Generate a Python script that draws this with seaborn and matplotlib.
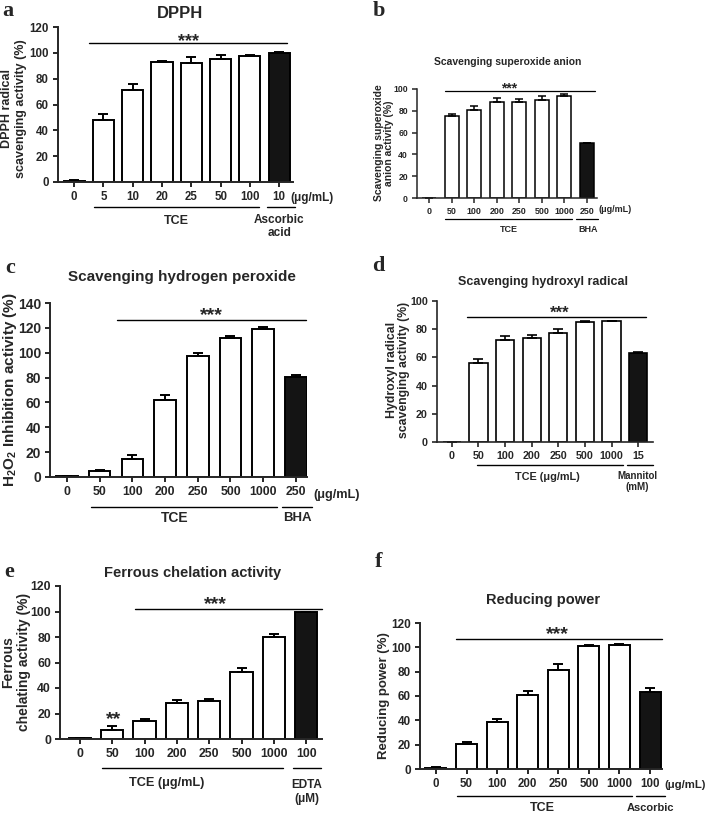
import matplotlib
matplotlib.use("Agg")
import matplotlib.pyplot as plt
import numpy as np
import pandas as pd
import seaborn as sns

# ---- data ----
a_labels = ["0", "5", "10", "20", "25", "50", "100", "10"]
a_means = [1, 48, 71, 93, 92.5, 95, 97.5, 99.5]
a_errs = [0.5, 4.3, 4.6, 0.5, 4.3, 3, 0.5, 1.2]

b_labels = ["0", "50", "100", "200", "250", "500", "1000", "250"]
b_means = [0, 74.8, 80.9, 87.7, 88.3, 89.5, 93.2, 50.5]
b_errs = [0, 2.1, 3.1, 4.3, 2.5, 3.7, 1.8, 0]

c_labels = ["0", "50", "100", "200", "250", "500", "1000", "250"]
c_means = [0.5, 4.6, 14.7, 61.7, 97.6, 111.8, 119, 80.4]
c_errs = [0.3, 1.3, 3.3, 4, 2.1, 1.9, 2, 1.9]

d_labels = ["0", "50", "100", "200", "250", "500", "1000", "15"]
d_means = [0, 56, 72, 73.9, 77, 85.2, 85.6, 62.8]
d_errs = [0, 2.6, 3.5, 2.3, 3.2, 0.4, 0.2, 1]

e_labels = ["0", "50", "100", "200", "250", "500", "1000", "100"]
e_means = [0.4, 7.3, 14.3, 28.1, 29.7, 52.3, 80.2, 99.5]
e_errs = [0, 2.6, 1.3, 2.4, 1.6, 3.2, 2.1, 0.3]

f_labels = ["0", "50", "100", "200", "250", "500", "1000", "100"]
f_means = [1, 20.4, 38.6, 60.9, 81, 101.4, 101.9, 63.1]
f_errs = [0.3, 1.4, 2.4, 3.3, 5.5, 0.8, 1.1, 3.3]

sns.set_style("ticks")
plt.rcParams['font.family'] = ['Liberation Sans', 'DejaVu Sans']
plt.rcParams['font.weight'] = 'bold'
plt.rcParams['mathtext.fontset'] = 'custom'
plt.rcParams['mathtext.rm'] = 'Liberation Sans:bold'
plt.rcParams['mathtext.bf'] = 'Liberation Sans:bold'

W, H = 709, 814
fig = plt.figure(figsize=(W / 100, H / 100), dpi=100)


def add_ax(l, t, r, b):
    return fig.add_axes([l / W, 1 - b / H, (r - l) / W, (b - t) / H])


def ftext(x, y, s, **kw):
    fig.text(x / W, 1 - y / H, s, **kw)


def bars(ax, labels, means, errs, width, ylim, ystep, xlim, fsx, fsy, lw=1.4):
    df = pd.DataFrame({"pos": list(range(len(labels))), "val": means})
    pal = ["white"] * (len(labels) - 1) + ["#141414"]
    sns.barplot(data=df, x="pos", y="val", hue="pos", palette=pal, legend=False,
                width=width, edgecolor="black", linewidth=lw, ax=ax)
    x = np.arange(len(labels))
    ax.errorbar(x, means, yerr=[np.zeros(len(errs)), errs], fmt="none",
                ecolor="black", elinewidth=lw, capsize=width * 5, capthick=lw, zorder=1)
    ax.set_xlim(*xlim)
    ax.set_ylim(*ylim)
    ax.set_yticks(np.arange(ylim[0], ylim[1] + 1, ystep))
    ax.set_xticks(x)
    ax.set_xticklabels(labels)
    ax.set_xlabel("")
    ax.set_ylabel("")
    sns.despine(ax=ax)
    for s in ["left", "bottom"]:
        ax.spines[s].set_linewidth(lw)
    ax.tick_params(width=lw, length=3.5, pad=3)
    ax.tick_params(axis="x", labelsize=fsx)
    ax.tick_params(axis="y", labelsize=fsy)
    for t in ax.get_xticklabels() + ax.get_yticklabels():
        t.set_fontweight("bold")


def group_line(ax, x0, x1, y, lw=1.0):
    ax.plot([x0, x1], [y, y], color="black", lw=lw, transform=ax.get_xaxis_transform(), clip_on=False)


def sig(ax, x0, x1, y, xs, ys, txt="***", fs=10, lw=1.0):
    ax.plot([x0, x1], [y, y], color="black", lw=lw, clip_on=False)
    ax.text(xs, ys, txt, ha="center", va="baseline", fontsize=fs, fontweight="bold")


def xt(ax, x, y, s, fs, **kw):
    ax.text(x, y, s, transform=ax.get_xaxis_transform(), fontsize=fs, fontweight="bold",
            ha=kw.pop("ha", "center"), va=kw.pop("va", "center"), **kw)


letter_kw = dict(family="Liberation Serif", fontweight="bold", fontsize=16, ha="center", va="center")
mu = "\u03bcg/mL"

# ---- a: DPPH ----
ax = add_ax(58, 27, 293, 182)
bars(ax, a_labels, a_means, a_errs, 0.72, (0, 120), 20, (-0.55, 7.47), 8.3, 8.3)
sig(ax, 0.51, 7.27, 108, 3.9, 105, fs=13)
group_line(ax, 0.68, 6.31, -0.161)
group_line(ax, 6.59, 7.54, -0.161)
xt(ax, 3.5, -0.252, "TCE", 9)
xt(ax, 7.0, -0.285, "Ascorbic\nacid", 8.5, linespacing=1.1)
xt(ax, 7.37, -0.103, "(" + mu + ")", 8.5, ha="left")
ftext(14, 109, "DPPH radical\nscavenging activity (%)", fontsize=9, fontweight="bold",
      rotation=90, ha="center", va="center", linespacing=1.15)
ftext(180, 13, "DPPH", fontsize=12, fontweight="bold", ha="center", va="center")
ftext(8, 11, "a", **letter_kw)

# ---- b: superoxide anion ----
ax = add_ax(417, 89, 597, 198)
bars(ax, b_labels, b_means, b_errs, 0.62, (0, 100), 20, (-0.53, 7.44), 6.4, 6.2, lw=1.1)
sig(ax, 0.71, 7.35, 98, 3.55, 97, fs=10, lw=0.9)
group_line(ax, 0.71, 6.34, -0.193, lw=0.9)
group_line(ax, 6.51, 7.49, -0.193, lw=0.9)
xt(ax, 3.54, -0.286, "TCE", 6.5)
xt(ax, 7.04, -0.286, "BHA", 6.5)
xt(ax, 7.5, -0.11, "(" + mu + ")", 6.5, ha="left")
ftext(384, 143, "Scavenging superoxide\nanion activity (%)", fontsize=7.5, fontweight="bold",
      rotation=90, ha="center", va="center", linespacing=1.1)
ftext(508, 62, "Scavenging superoxide anion", fontsize=7.5, fontweight="bold", ha="center", va="center")
ftext(379, 11, "b", **letter_kw)

# ---- c: hydrogen peroxide ----
ax = add_ax(50, 303, 307, 477)
bars(ax, c_labels, c_means, c_errs, 0.66, (0, 140), 20, (-0.52, 7.34), 8.8, 10)
sig(ax, 1.53, 7.31, 126, 4.43, 126.5, fs=14)
group_line(ax, 0.73, 6.42, -0.172)
group_line(ax, 6.57, 7.49, -0.172)
xt(ax, 3.3, -0.236, "TCE", 10)
xt(ax, 7.06, -0.236, "BHA", 9.5)
xt(ax, 7.52, -0.103, "(" + mu + ")", 9.2, ha="left")
ftext(10, 390, "H$_{2}$O$_{2}$ Inhibition activity (%)", fontsize=11, fontweight="bold",
      rotation=90, ha="center", va="center")
ftext(182, 277, "Scavenging hydrogen peroxide", fontsize=11, fontweight="bold", ha="center", va="center")
ftext(10, 268, "c", **letter_kw)

# ---- d: hydroxyl radical ----
ax = add_ax(437, 301, 653, 442)
bars(ax, d_labels, d_means, d_errs, 0.68, (0, 100), 20, (-0.56, 7.56), 7.7, 7.7, lw=1.2)
sig(ax, 0.56, 7.30, 88.5, 4.06, 88.3, fs=12)
group_line(ax, 0.94, 6.44, -0.163)
group_line(ax, 6.59, 7.56, -0.163)
xt(ax, 3.58, -0.248, "TCE (" + mu + ")", 7.8)
xt(ax, 6.96, -0.28, "Mannitol\n(mM)", 7, linespacing=1.15)
ftext(398, 370, "Hydroxyl radical\nscavenging activity (%)", fontsize=8.8, fontweight="bold",
      rotation=90, ha="center", va="center", linespacing=1.1)
ftext(543, 282, "Scavenging hydroxyl radical", fontsize=9, fontweight="bold", ha="center", va="center")
ftext(378, 266, "d", **letter_kw)

# ---- e: ferrous chelation ----
ax = add_ax(60, 586, 322, 739)
bars(ax, e_labels, e_means, e_errs, 0.69, (0, 120), 20, (-0.62, 7.49), 8.8, 8.8)
sig(ax, 1.70, 7.49, 102.3, 4.18, 102, fs=14)
ax.text(1.05, 11.5, "**", ha="center", va="baseline", fontsize=14, fontweight="bold")
group_line(ax, 0.68, 6.28, -0.19)
group_line(ax, 6.59, 7.46, -0.19)
xt(ax, 2.69, -0.288, "TCE (\u03bcg/mL)", 9.2)
xt(ax, 7.03, -0.345, "EDTA\n(\u03bcM)", 8.5, linespacing=1.25)
ftext(16, 662, "Ferrous\nchelating activity (%)", fontsize=10, fontweight="bold",
      rotation=90, ha="center", va="center", linespacing=1.15)
ftext(193, 573, "Ferrous chelation activity", fontsize=10.5, fontweight="bold", ha="center", va="center")
ftext(9, 572, "e", **letter_kw)

# ---- f: reducing power ----
ax = add_ax(420, 623, 662, 769)
bars(ax, f_labels, f_means, f_errs, 0.69, (0, 120), 20, (-0.52, 7.39), 8.3, 8.5)
sig(ax, 0.65, 7.39, 106.9, 3.96, 106.8, fs=14)
group_line(ax, 0.69, 6.41, -0.185)
group_line(ax, 6.54, 7.49, -0.185)
xt(ax, 3.47, -0.267, "TCE", 9)
xt(ax, 7.0, -0.267, "Ascorbic", 8)
xt(ax, 7.47, -0.11, "(" + mu + ")", 8.2, ha="left")
ftext(384, 696, "Reducing power (%)", fontsize=9.5, fontweight="bold",
      rotation=90, ha="center", va="center")
ftext(543, 600, "Reducing power", fontsize=10.5, fontweight="bold", ha="center", va="center")
ftext(379, 562, "f", **letter_kw)

fig.savefig("out.png", dpi=100, facecolor="white")
